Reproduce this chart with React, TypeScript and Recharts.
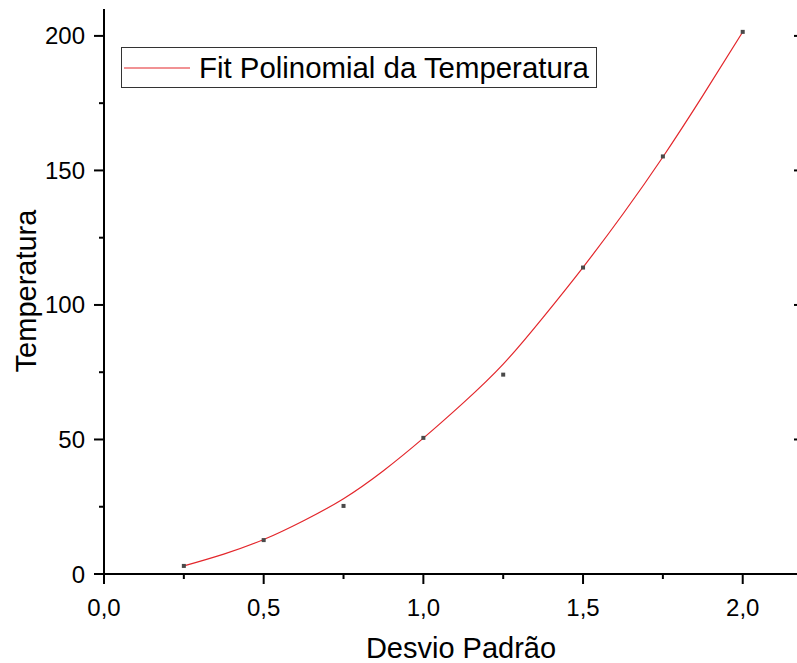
import React from 'react';
import { ComposedChart, Line, Scatter, XAxis, YAxis, Legend } from 'recharts';

const FONT = '"Liberation Sans", Arial, sans-serif';

// measured points
const desvioPadrao = [0.25, 0.5, 0.75, 1.0, 1.25, 1.5, 1.75, 2.0];
const temperatura = [3.0, 12.6, 25.3, 50.6, 74.1, 113.9, 155.2, 201.5];

// polynomial fit curve
const fitDesvio = [0.25, 0.375, 0.5, 0.625, 0.75, 0.875, 1.0, 1.125, 1.25, 1.375, 1.5, 1.625, 1.75, 1.875, 2.0];
const fitTemperatura = [3.0, 7.4, 12.8, 19.8, 28.0, 38.4, 50.5, 63.6, 78.0, 95.4, 114.0, 133.8, 155.0, 177.8, 201.5];

const xTicks = [0, 0.25, 0.5, 0.75, 1.0, 1.25, 1.5, 1.75, 2.0];
const xMajor = [0, 0.5, 1.0, 1.5, 2.0];
const yTicks = [0, 25, 50, 75, 100, 125, 150, 175, 200];
const yMajor = [0, 50, 100, 150, 200];

const points = desvioPadrao.map((x, i) => ({ x, y: temperatura[i] }));
const fitLine = fitDesvio.map((x, i) => ({ x, y: fitTemperatura[i] }));

const fmt = (v: number) => v.toFixed(1).replace('.', ',');

const BottomTick = (props: any) => {
  const { x, y, payload } = props;
  const major = xMajor.includes(payload.value);
  const axisY = y - 25;
  return (
    <g>
      <line x1={x} x2={x} y1={axisY} y2={axisY + (major ? 10 : 5)} stroke="#000" strokeWidth={2} />
      {major && (
        <text x={x} y={axisY + 25} dy="0.71em" textAnchor="middle" fontSize={24} fontFamily={FONT} fill="#000">
          {fmt(payload.value)}
        </text>
      )}
    </g>
  );
};

const LeftTick = (props: any) => {
  const { x, y, payload } = props;
  const major = yMajor.includes(payload.value);
  const axisX = x + 19;
  return (
    <g>
      <line x1={axisX - (major ? 10 : 5)} x2={axisX} y1={y} y2={y} stroke="#000" strokeWidth={2} />
      {major && (
        <text x={x} y={y} dy="0.355em" textAnchor="end" fontSize={24} fontFamily={FONT} fill="#000">
          {payload.value}
        </text>
      )}
    </g>
  );
};

// right frame: tick pointing inward from the axis line
const RightTick = (props: any) => {
  const { x, y } = props;
  return <line x1={x - 11} x2={x} y1={y} y2={y} stroke="#000" strokeWidth={2} />;
};

const SquareDot = (props: any) => {
  const { cx, cy } = props;
  return <rect x={cx - 2} y={cy - 2} width={4} height={4} fill="#4a4a4a" />;
};

const LegendBox = () => (
  <div
    style={{
      border: '1px solid #333',
      width: 474,
      height: 39,
      display: 'flex',
      alignItems: 'center',
      background: '#fff',
      fontFamily: FONT,
      fontSize: 29.4,
      color: '#000',
      boxSizing: 'content-box',
    }}
  >
    <svg width={66} height={4} style={{ marginLeft: 2, marginRight: 9 }}>
      <line x1={0} x2={66} y1={2} y2={2} stroke="#e3262b" strokeWidth={1.2} />
    </svg>
    <span style={{ whiteSpace: 'nowrap', lineHeight: 1 }}>Fit Polinomial da Temperatura</span>
  </div>
);

export default function App() {
  return (
    <div style={{ position: 'absolute', left: 0, top: 0, width: 797, height: 663, overflow: 'hidden', background: '#fff' }}>
      <ComposedChart width={820} height={663} margin={{ top: 9, right: 14, bottom: 39, left: 0 }}>
        <XAxis
          xAxisId="bottom"
          dataKey="x"
          type="number"
          domain={[0, 2.195]}
          ticks={xTicks}
          interval={0}
          height={50}
          tickSize={10}
          tickMargin={15}
          tickLine={false}
          tick={<BottomTick />}
          axisLine={{ stroke: '#000', strokeWidth: 2 }}
          allowDataOverflow
        />
        <XAxis
          xAxisId="top"
          orientation="top"
          type="number"
          domain={[0, 2.195]}
          ticks={xMajor}
          interval={0}
          height={0}
          mirror
          tickSize={10}
          tick={false}
          tickLine={{ stroke: '#000', strokeWidth: 2 }}
          axisLine={{ stroke: '#000', strokeWidth: 2 }}
          allowDataOverflow
        />
        <YAxis
          yAxisId="left"
          type="number"
          domain={[0, 210]}
          ticks={yTicks}
          interval={0}
          width={104}
          tickSize={10}
          tickMargin={9}
          tickLine={false}
          tick={<LeftTick />}
          axisLine={{ stroke: '#000', strokeWidth: 2 }}
          allowDataOverflow
        />
        <YAxis
          yAxisId="right"
          orientation="right"
          type="number"
          domain={[0, 210]}
          ticks={yMajor}
          interval={0}
          width={1}
          tickSize={0}
          tickMargin={0}
          tickLine={false}
          tick={<RightTick />}
          axisLine={{ stroke: '#000', strokeWidth: 2 }}
          allowDataOverflow
        />
        <Legend
          layout="horizontal"
          verticalAlign="middle"
          align="center"
          content={<LegendBox />}
          wrapperStyle={{ left: 121, top: 47, width: 'auto', height: 'auto' }}
        />
        <Scatter
          xAxisId="bottom"
          yAxisId="left"
          data={points}
          dataKey="y"
          shape={<SquareDot />}
          legendType="none"
          isAnimationActive={false}
        />
        <Line
          xAxisId="bottom"
          yAxisId="left"
          data={fitLine}
          dataKey="y"
          type="natural"
          stroke="#e3262b"
          strokeWidth={1.2}
          dot={false}
          activeDot={false}
          name="Fit Polinomial da Temperatura"
          isAnimationActive={false}
        />
      </ComposedChart>
      <div
        style={{
          position: 'absolute',
          left: 26,
          top: 291,
          transform: 'translate(-50%, -50%) rotate(-90deg)',
          fontFamily: FONT,
          fontSize: 29,
          lineHeight: 1,
          whiteSpace: 'nowrap',
          color: '#000',
        }}
      >
        Temperatura
      </div>
      <div
        style={{
          position: 'absolute',
          left: 461,
          top: 648,
          transform: 'translate(-50%, -50%)',
          fontFamily: FONT,
          fontSize: 29,
          lineHeight: 1,
          whiteSpace: 'nowrap',
          color: '#000',
        }}
      >
        Desvio Padrão
      </div>
    </div>
  );
}
